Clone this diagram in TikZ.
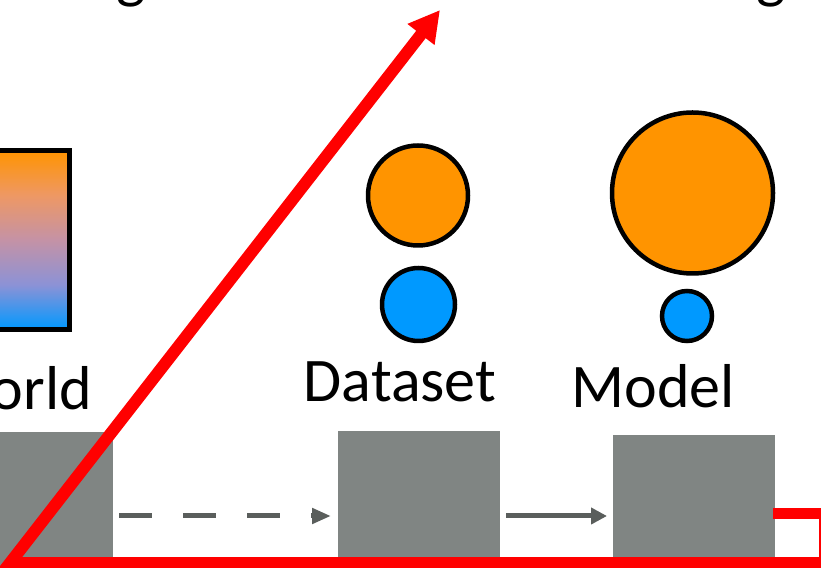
\documentclass[tikz,border=0pt]{standalone}
\usepackage{fontspec}
\setmainfont{Carlito}
\usetikzlibrary{arrows.meta}

\definecolor{stepgrey}{RGB}{128,133,131}
\definecolor{flowgrey}{RGB}{90,94,92}
\definecolor{warm}{RGB}{255,148,0}
\definecolor{cool}{RGB}{0,153,255}
\definecolor{axisred}{RGB}{255,0,0}
\definecolor{fadeA}{RGB}{238,152,100}
\definecolor{fadeB}{RGB}{196,146,166}
\definecolor{fadeC}{RGB}{140,146,214}

% the filled path spans the 25bp..75bp band of the shading
\pgfdeclareverticalshading{worldfade}{100bp}{
  color(0bp)=(cool);
  color(25bp)=(cool);
  color(37.5bp)=(fadeC);
  color(50bp)=(fadeB);
  color(62.5bp)=(fadeA);
  color(75bp)=(warm);
  color(100bp)=(warm)}

\tikzset{
  lbl/.style={font=\fontsize{62}{74}\selectfont, inner sep=0pt, text=black},
  stepbox/.style={fill=stepgrey, draw=none},
  ball/.style={draw=black, line width=4.5pt, circle, inner sep=0pt},
  warmball/.style={ball, fill=warm},
  coolball/.style={ball, fill=cool},
  flow/.style={draw=flowgrey, line width=5pt},
  axis/.style={draw=axisred, line width=12pt, line join=miter},
}

\begin{document}
\begin{tikzpicture}[x=1pt, y=1pt]
\useasboundingbox (0,0) rectangle (821,567);
\clip (0,0) rectangle (821,567);

% headings along the top edge
\node[lbl, anchor=base east] (headleft) at (146,570) {Scaling};
\node[lbl, anchor=base west] (headright) at (485,570) {Data scaling and};

% world: colour blend box
\shade[shading=worldfade, draw=black, line width=5pt] (-10,237.5) rectangle (69.5,416.5);
\node[lbl, anchor=base east] (world) at (92,157) {World};

% dataset
\node[warmball, minimum size=100pt] (dwarm) at (418,371.5) {};
\node[coolball, minimum size=73pt] (dcool) at (418.5,262.5) {};
\node[lbl, anchor=base] (dataset) at (400,165) {Dataset};

% model
\node[warmball, minimum size=161pt] (mwarm) at (692.5,374) {};
\node[coolball, minimum size=50pt] (mcool) at (687,251) {};
\node[lbl, anchor=base] (model) at (653,159) {Model};

% process blocks
\path[stepbox] (-10,-5) rectangle (113,135);
\path[stepbox] (338,-5) rectangle (500,136);
\path[stepbox] (613,-5) rectangle (775,132);
\coordinate (b1e) at (113,51);
\coordinate (b2w) at (338,51);
\coordinate (b2e) at (500,51);
\coordinate (b3w) at (613,51);

% flows between blocks
\draw[flow, dash pattern=on 33pt off 31pt, -{Triangle[length=19pt,width=15pt]}]
  ([xshift=6pt]b1e) -- ([xshift=-7pt]b2w);
\draw[flow, -{Triangle[length=16pt,width=16pt]}]
  ([xshift=6pt]b2e) -- ([xshift=-6pt]b3w);

% axes
\coordinate (origin) at (10,4);
\coordinate (tip) at (440,557);
\coordinate (xend) at (840,4);
\draw[axis, {Triangle[length=31pt,width=32pt]}-] (tip) -- (origin) -- (xend);
\draw[draw=axisred, line width=11pt] (773,53.5) -| (824.5,4);
\end{tikzpicture}
\end{document}
